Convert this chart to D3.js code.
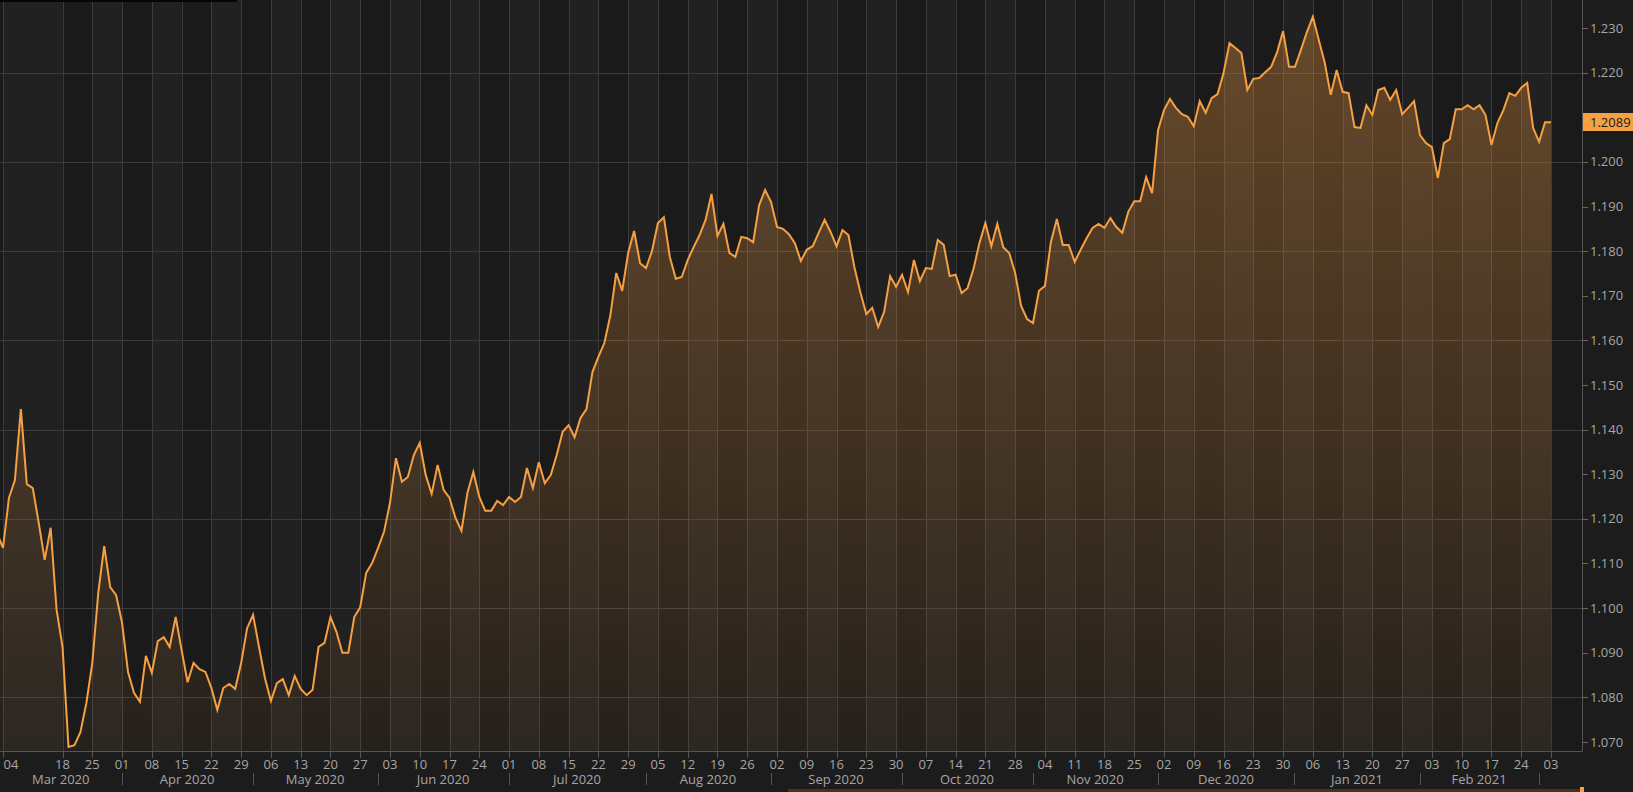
<!DOCTYPE html>
<html>
<head>
<meta charset="utf-8">
<script src="https://cdn.jsdelivr.net/npm/d3@7"></script>
<style>
  html, body { margin: 0; padding: 0; background: #1c1c1c; overflow: hidden; }
  text { font-family: "Open Sans", sans-serif; }
</style>
</head>
<body>
<div id="chart"></div>
<script>
// daily closes, one per weekday starting from startDate
const startDate = "2020-03-03";
const closes = [
  1.1168, 1.1135, 1.1247, 1.1287, 1.1446, 1.1278, 1.1269, 1.1191, 1.1108, 1.1180,
  1.0996, 1.0913, 1.0689, 1.0693, 1.0722, 1.0787, 1.0877, 1.1034, 1.1139, 1.1047,
  1.1029, 1.0967, 1.0857, 1.0810, 1.0790, 1.0893, 1.0855, 1.0926, 1.0935, 1.0913,
  1.0980, 1.0906, 1.0834, 1.0877, 1.0863, 1.0857, 1.0821, 1.0772, 1.0821, 1.0830,
  1.0819, 1.0877, 1.0955, 1.0985, 1.0913, 1.0843, 1.0792, 1.0832, 1.0841, 1.0805,
  1.0848, 1.0819, 1.0805, 1.0817, 1.0913, 1.0922, 1.0980, 1.0947, 1.0900, 1.0900,
  1.0980, 1.1002, 1.1079, 1.1101, 1.1135, 1.1171, 1.1236, 1.1336, 1.1283, 1.1294,
  1.1343, 1.1370, 1.1298, 1.1256, 1.1321, 1.1265, 1.1247, 1.1202, 1.1173, 1.1258,
  1.1305, 1.1249, 1.1218, 1.1218, 1.1240, 1.1231, 1.1249, 1.1238, 1.1249, 1.1314,
  1.1269, 1.1327, 1.1280, 1.1298, 1.1343, 1.1395, 1.1410, 1.1383, 1.1426, 1.1446,
  1.1529, 1.1563, 1.1594, 1.1655, 1.1751, 1.1711, 1.1796, 1.1845, 1.1773, 1.1762,
  1.1800, 1.1863, 1.1876, 1.1787, 1.1738, 1.1742, 1.1780, 1.1809, 1.1836, 1.1870,
  1.1928, 1.1834, 1.1861, 1.1796, 1.1787, 1.1832, 1.1829, 1.1820, 1.1903, 1.1937,
  1.1910, 1.1854, 1.1850, 1.1838, 1.1818, 1.1778, 1.1803, 1.1811, 1.1841, 1.1870,
  1.1843, 1.1811, 1.1847, 1.1836, 1.1764, 1.1708, 1.1659, 1.1673, 1.1630, 1.1664,
  1.1744, 1.1720, 1.1747, 1.1708, 1.1780, 1.1733, 1.1762, 1.1760, 1.1825, 1.1814,
  1.1744, 1.1747, 1.1706, 1.1717, 1.1760, 1.1818, 1.1863, 1.1811, 1.1861, 1.1809,
  1.1796, 1.1751, 1.1677, 1.1648, 1.1639, 1.1711, 1.1722, 1.1820, 1.1872, 1.1814,
  1.1814, 1.1776, 1.1803, 1.1829, 1.1852, 1.1861, 1.1852, 1.1874, 1.1854, 1.1841,
  1.1888, 1.1912, 1.1912, 1.1966, 1.1930, 1.2071, 1.2116, 1.2141, 1.2121, 1.2107,
  1.2101, 1.2080, 1.2136, 1.2110, 1.2143, 1.2152, 1.2199, 1.2266, 1.2255, 1.2244,
  1.2161, 1.2186, 1.2188, 1.2201, 1.2213, 1.2246, 1.2293, 1.2213, 1.2213, 1.2251,
  1.2291, 1.2325, 1.2273, 1.2222, 1.2150, 1.2206, 1.2157, 1.2154, 1.2078, 1.2076,
  1.2127, 1.2105, 1.2161, 1.2166, 1.2139, 1.2161, 1.2107, 1.2121, 1.2136, 1.2060,
  1.2042, 1.2033, 1.1964, 1.2042, 1.2051, 1.2118, 1.2118, 1.2127, 1.2118, 1.2127,
  1.2105, 1.2038, 1.2087, 1.2116, 1.2154, 1.2148, 1.2166, 1.2177, 1.2076, 1.2045,
  1.2089, 1.2089
];
const lastLabel = "1.2089";

// weekly tick dates on the time axis (11 Mar 2020 is not drawn in the original)
const tickDates = [
  "2020-03-04", "2020-03-18", "2020-03-25", "2020-04-01", "2020-04-08", "2020-04-15",
  "2020-04-22", "2020-04-29", "2020-05-06", "2020-05-13", "2020-05-20", "2020-05-27",
  "2020-06-03", "2020-06-10", "2020-06-17", "2020-06-24", "2020-07-01", "2020-07-08",
  "2020-07-15", "2020-07-22", "2020-07-29", "2020-08-05", "2020-08-12", "2020-08-19",
  "2020-08-26", "2020-09-02", "2020-09-09", "2020-09-16", "2020-09-23", "2020-09-30",
  "2020-10-07", "2020-10-14", "2020-10-21", "2020-10-28", "2020-11-04", "2020-11-11",
  "2020-11-18", "2020-11-25", "2020-12-02", "2020-12-09", "2020-12-16", "2020-12-23",
  "2020-12-30", "2021-01-06", "2021-01-13", "2021-01-20", "2021-01-27", "2021-02-03",
  "2021-02-10", "2021-02-17", "2021-02-24", "2021-03-03"
];
const monthStarts = [
  "2020-04-01", "2020-05-01", "2020-06-01", "2020-07-01", "2020-08-03", "2020-09-01",
  "2020-10-01", "2020-11-02", "2020-12-01", "2021-01-01", "2021-02-01", "2021-03-01"
];
const monthLabels = [
  "Mar 2020", "Apr 2020", "May 2020", "Jun 2020", "Jul 2020", "Aug 2020", "Sep 2020",
  "Oct 2020", "Nov 2020", "Dec 2020", "Jan 2021", "Feb 2021", "Mar 2021"
];
const yTicks = [1.07, 1.08, 1.09, 1.10, 1.11, 1.12, 1.13, 1.14, 1.15, 1.16, 1.17, 1.18, 1.19, 1.20, 1.21, 1.22, 1.23, 1.24];
const yGrid = [1.08, 1.10, 1.12, 1.14, 1.16, 1.18, 1.20, 1.22, 1.24];

// size of the page and the plot area
const width = 1633, height = 792;
const plotRight = 1582, plotBottom = 751;

// one entry per weekday
const parse = d3.timeParse("%Y-%m-%d");
const fmt = d3.timeFormat("%Y-%m-%d");
const dates = [];
let day = parse(startDate);
while (dates.length < closes.length) {
  if (day.getDay() !== 0 && day.getDay() !== 6) dates.push(new Date(day));
  day = d3.timeDay.offset(day, 1);
}
const dayIndex = new Map(dates.map((d, i) => [fmt(d), i]));
const data = closes.map((v, i) => ({i: i, date: dates[i], value: v}));

// x runs on trading days, so weekends take no space
const x = d3.scaleLinear()
  .domain([dayIndex.get("2020-03-04"), dayIndex.get("2021-03-03")])
  .range([3, 1551]);

const y = d3.scaleLinear()
  .domain([1.07, 1.23])
  .range([742, 28]);

const svg = d3.select("#chart")
  .append("svg")
    .attr("width", width)
    .attr("height", height);

svg.append("rect")
  .attr("width", width)
  .attr("height", height)
  .attr("fill", "#1c1c1c");

const defs = svg.append("defs");
defs.append("clipPath")
  .attr("id", "plot-clip")
  .append("rect")
    .attr("x", 0)
    .attr("y", 0)
    .attr("width", plotRight)
    .attr("height", plotBottom);

const grad = defs.append("linearGradient")
  .attr("id", "area-fill")
  .attr("gradientUnits", "userSpaceOnUse")
  .attr("x1", 0).attr("y1", 0)
  .attr("x2", 0).attr("y2", plotBottom);
grad.append("stop").attr("offset", "0%").attr("stop-color", "#f39a3e").attr("stop-opacity", 0.34);
grad.append("stop").attr("offset", "100%").attr("stop-color", "#f39a3e").attr("stop-opacity", 0.05);

const plot = svg.append("g").attr("clip-path", "url(#plot-clip)");

// alternating weekly bands between the ticks
const tickX = tickDates.map(d => x(dayIndex.get(d)));
const bandEdges = [0].concat(tickX, [plotRight]);
plot.append("g")
  .selectAll("rect")
  .data(d3.pairs(bandEdges))
  .join("rect")
    .attr("x", d => d[0])
    .attr("y", 0)
    .attr("width", d => d[1] - d[0])
    .attr("height", plotBottom)
    .attr("fill", (d, i) => i % 2 === 0 ? "#1a1a1a" : "#212121");

// grid lines
plot.append("g")
  .selectAll("line")
  .data(tickX)
  .join("line")
    .attr("x1", d => Math.round(d) + 0.5)
    .attr("x2", d => Math.round(d) + 0.5)
    .attr("y1", 0)
    .attr("y2", plotBottom)
    .attr("stroke", "#3b3b3b");

plot.append("g")
  .selectAll("line")
  .data(yGrid)
  .join("line")
    .attr("x1", 0)
    .attr("x2", plotRight)
    .attr("y1", d => Math.round(y(d)) + 0.5)
    .attr("y2", d => Math.round(y(d)) + 0.5)
    .attr("stroke", "#3b3b3b");

// area and line
plot.append("path")
  .datum(data)
  .attr("fill", "url(#area-fill)")
  .attr("d", d3.area()
    .x(d => x(d.i))
    .y0(plotBottom)
    .y1(d => y(d.value)));

plot.append("path")
  .datum(data)
  .attr("fill", "none")
  .attr("stroke", "#f6a043")
  .attr("stroke-width", 2)
  .attr("stroke-linejoin", "miter")
  .attr("d", d3.line()
    .x(d => x(d.i))
    .y(d => y(d.value)));

// frame
svg.append("line")
  .attr("x1", 0).attr("x2", plotRight + 0.5)
  .attr("y1", plotBottom + 0.5).attr("y2", plotBottom + 0.5)
  .attr("stroke", "#555");
svg.append("line")
  .attr("x1", plotRight + 0.5).attr("x2", plotRight + 0.5)
  .attr("y1", 0).attr("y2", plotBottom + 0.5)
  .attr("stroke", "#555");

// right value axis
const yAxis = svg.append("g");
yAxis.selectAll("line")
  .data(yTicks)
  .join("line")
    .attr("x1", plotRight)
    .attr("x2", plotRight + 6)
    .attr("y1", d => Math.round(y(d)) + 0.5)
    .attr("y2", d => Math.round(y(d)) + 0.5)
    .attr("stroke", "#666");
yAxis.selectAll("text")
  .data(yTicks)
  .join("text")
    .attr("x", plotRight + 8)
    .attr("y", d => y(d))
    .attr("dy", "0.35em")
    .attr("fill", "#a6a6a6")
    .attr("font-size", 13)
    .text(d => d3.format(".3f")(d));

// last value tag
svg.append("rect")
  .attr("x", plotRight + 1)
  .attr("y", 113)
  .attr("width", width - plotRight - 1)
  .attr("height", 18)
  .attr("fill", "#f6a043");
svg.append("text")
  .attr("x", plotRight + 8)
  .attr("y", 122)
  .attr("dy", "0.35em")
  .attr("fill", "#1b1b1b")
  .attr("font-size", 13)
  .text(lastLabel);

// time axis: weekly ticks with day numbers
const xAxis = svg.append("g");
xAxis.selectAll("line")
  .data(tickX)
  .join("line")
    .attr("x1", d => Math.round(d) + 0.5)
    .attr("x2", d => Math.round(d) + 0.5)
    .attr("y1", plotBottom)
    .attr("y2", plotBottom + 7)
    .attr("stroke", "#555");
xAxis.selectAll("text")
  .data(tickDates)
  .join("text")
    .attr("x", d => Math.max(x(dayIndex.get(d)), 11))
    .attr("y", 764)
    .attr("dy", "0.35em")
    .attr("text-anchor", "middle")
    .attr("fill", "#a6a6a6")
    .attr("font-size", 13)
    .text(d => d.slice(8));

// month row: separators at the first trading day, labels centred on the visible span
const sepX = monthStarts.map(d => x(dayIndex.get(d)) - 0.5);
xAxis.append("g")
  .selectAll("line")
  .data(sepX)
  .join("line")
    .attr("x1", d => Math.round(d) + 0.5)
    .attr("x2", d => Math.round(d) + 0.5)
    .attr("y1", 773)
    .attr("y2", 785)
    .attr("stroke", "#555");
const monthEdges = [0].concat(sepX, [plotRight]);
xAxis.append("g")
  .selectAll("text")
  .data(d3.pairs(monthEdges).map((p, i) => ({label: monthLabels[i], a: p[0], b: p[1]}))
    .filter(m => m.b - m.a > 70))
  .join("text")
    .attr("x", m => (m.a + m.b) / 2)
    .attr("y", 779)
    .attr("dy", "0.35em")
    .attr("text-anchor", "middle")
    .attr("fill", "#a6a6a6")
    .attr("font-size", 13)
    .text(m => m.label);

// bits of the surrounding window
svg.append("rect")
  .attr("x", 0).attr("y", 0)
  .attr("width", 237).attr("height", 2)
  .attr("fill", "#050505");
svg.append("rect")
  .attr("x", 788).attr("y", 789)
  .attr("width", plotRight - 788).attr("height", 3)
  .attr("fill", "#4a331c");
svg.append("rect")
  .attr("x", plotRight - 2).attr("y", 787)
  .attr("width", 4).attr("height", 5)
  .attr("fill", "#f6a043");
</script>
</body>
</html>
